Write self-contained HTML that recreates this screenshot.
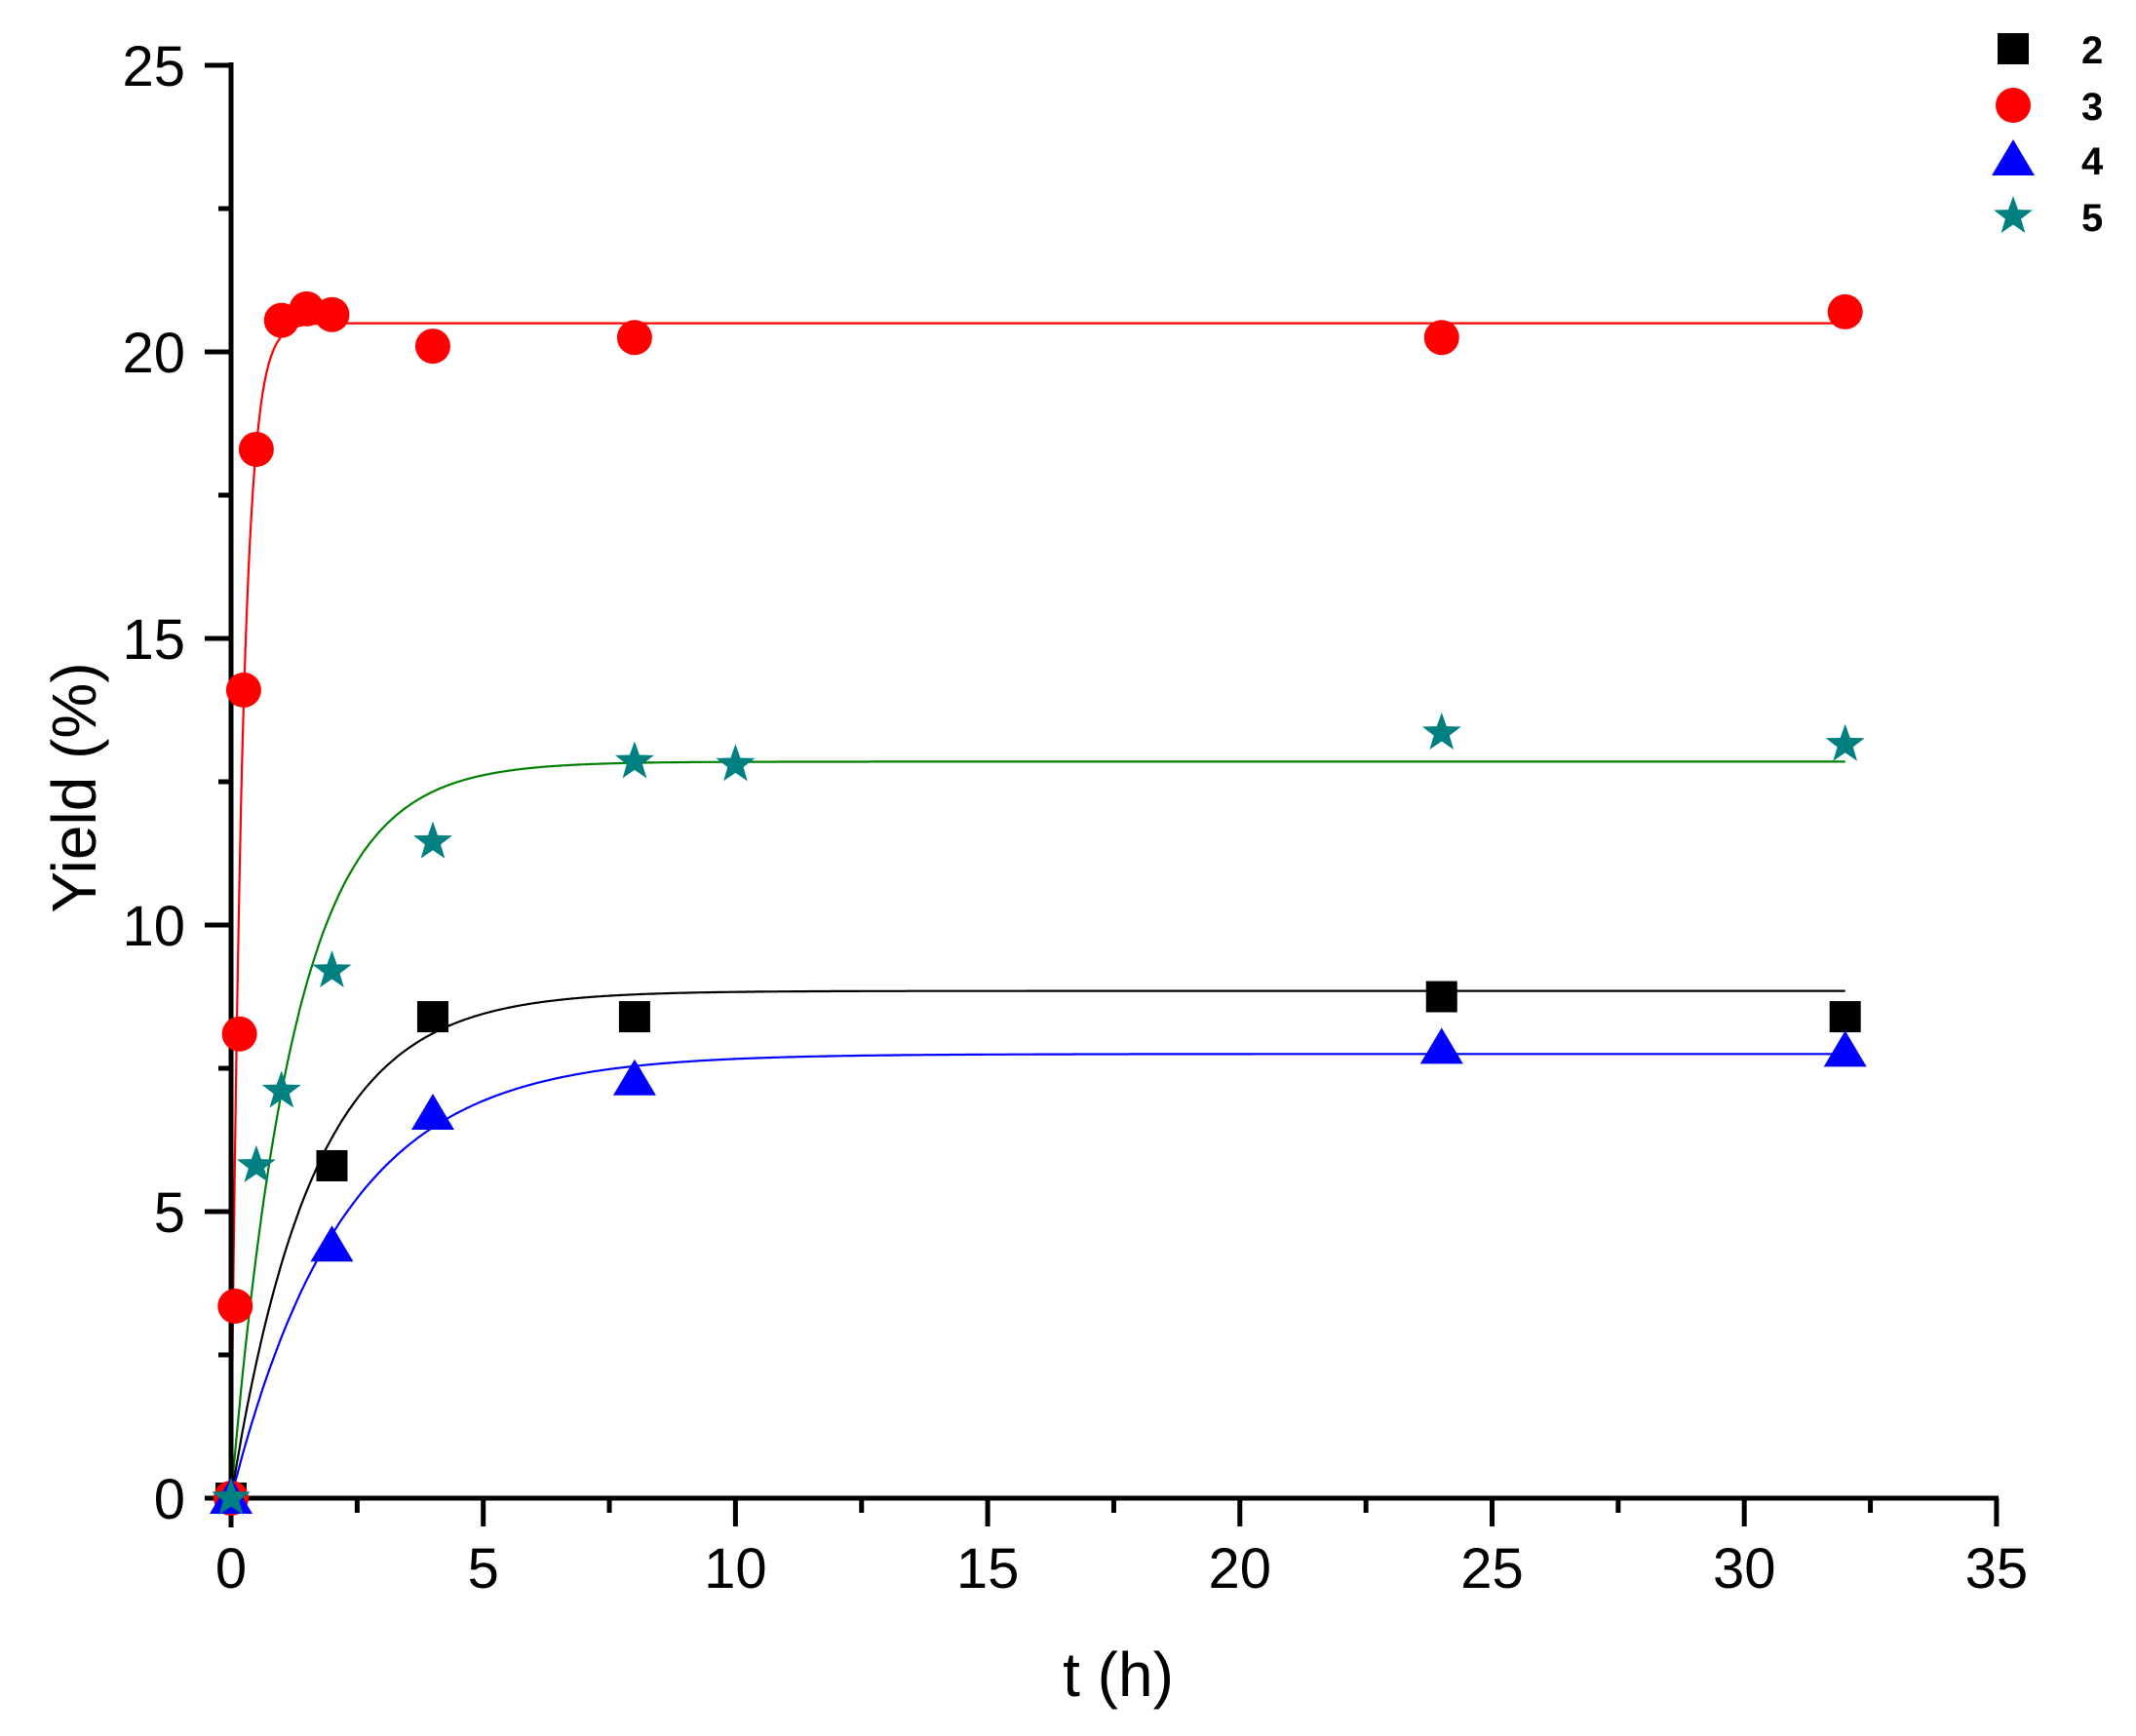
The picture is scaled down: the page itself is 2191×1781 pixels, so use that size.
<!DOCTYPE html>
<html><head><meta charset="utf-8"><style>
html,body{margin:0;padding:0;background:#fff}
svg{display:block}
text{font-family:"Liberation Sans",Arial,sans-serif}
</style></head><body>
<svg id="s" width="2191" height="1781" xmlns="http://www.w3.org/2000/svg"></svg>
<script>
const s=document.getElementById('s');
const X=t=>237+51.74*t, Y=v=>1537-58.8*v;
let h='';
function curve(A,k,col){let p='';for(let i=0;i<=1280;i++){let t=i*0.025;p+=(i?'L':'M')+X(t).toFixed(1)+','+Y(A*(1-Math.exp(-k*t))).toFixed(1);}h+=`<path d="${p}" fill="none" stroke="${col}" stroke-width="2.2"/>`;}
curve(20.5,4.5,'#ff0000');
curve(12.85,0.8,'#008000');
curve(8.85,0.62,'#000');
curve(7.75,0.45,'#0000ff');
h+=`<line x1="237" y1="64" x2="237" y2="1567" stroke="#000" stroke-width="5"/>`;
h+=`<line x1="210" y1="1537" x2="2050" y2="1537" stroke="#000" stroke-width="5"/>`;
for(let v=0;v<=25;v+=2.5){let y=Y(v),maj=v%5==0;h+=`<line x1="${maj?210:224}" y1="${y}" x2="237" y2="${y}" stroke="#000" stroke-width="5"/>`;if(maj)h+=`<text x="190" y="${y+21}" font-size="58" text-anchor="end">${v}</text>`;}
for(let t=0;t<=35;t+=2.5){let x=X(t),maj=t%5==0;h+=`<line x1="${x}" y1="1537" x2="${x}" y2="${maj?1566:1552}" stroke="#000" stroke-width="5"/>`;if(maj)h+=`<text x="${x}" y="1629" font-size="58" text-anchor="middle">${t}</text>`;}
h+=`<text x="1147" y="1740" font-size="64" text-anchor="middle">t (h)</text>`;
h+=`<text transform="translate(98,808) rotate(-90)" font-size="64" text-anchor="middle">Yield (%)</text>`;
const sq=(x,y,c)=>`<rect x="${x-16}" y="${y-16}" width="32" height="32" fill="${c}"/>`;
const ci=(x,y,c)=>`<circle cx="${x}" cy="${y}" r="18" fill="${c}"/>`;
const tr=(x,y,c)=>`<polygon points="${x},${y-21} ${x+22},${y+16} ${x-22},${y+16}" fill="${c}"/>`;
function st(x,y,c){let p=[];for(let i=0;i<10;i++){let r=i%2?8.5:21,a=-Math.PI/2+i*Math.PI/5;p.push((x+r*Math.cos(a)).toFixed(1)+','+(y+r*Math.sin(a)).toFixed(1));}return `<polygon points="${p.join(' ')}" fill="${c}"/>`;}
[[0,0],[2,5.8],[4,8.4],[8,8.4],[24,8.75],[32,8.4]].forEach(d=>h+=sq(X(d[0]),Y(d[1]),'#000'));
[[0,0],[0.083,3.35],[0.167,8.1],[0.25,14.1],[0.5,18.3],[1,20.55],[1.5,20.75],[2,20.65],[4,20.1],[8,20.25],[24,20.25],[32,20.7]].forEach(d=>h+=ci(X(d[0]),Y(d[1]),'#ff0000'));
[[0,0],[2,4.4],[4,6.7],[8,7.3],[24,7.85],[32,7.8]].forEach(d=>h+=tr(X(d[0]),Y(d[1]),'#0000ff'));
[[0,0],[0.5,5.8],[1,7.1],[2,9.2],[4,11.45],[8,12.85],[10,12.8],[24,13.35],[32,13.15]].forEach(d=>h+=st(X(d[0]),Y(d[1]),'#008080'));
h+=sq(2065,50,'#000')+ci(2065,108,'#ff0000')+tr(2065,164,'#0000ff')+st(2065,222,'#008080');
[['2',50],['3',108],['4',164],['5',222]].forEach(d=>h+=`<text x="2135" y="${d[1]+15}" font-size="40" font-weight="bold">${d[0]}</text>`);
s.innerHTML=h;
</script>
</body></html>
